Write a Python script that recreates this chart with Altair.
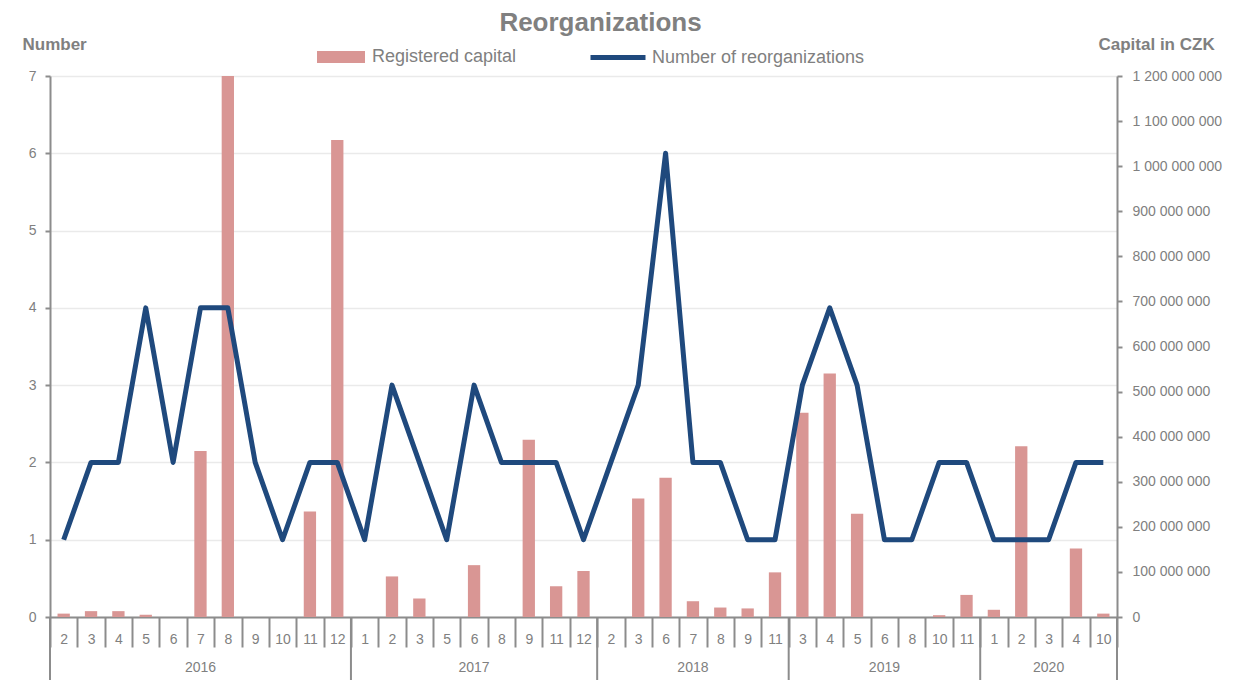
import altair as alt
import pandas as pd

# ---- data ----
years = [2016, 2017, 2018, 2019, 2020]
months_by_year = [
    [2, 3, 4, 5, 6, 7, 8, 9, 10, 11, 12],
    [1, 2, 3, 5, 6, 8, 9, 11, 12],
    [2, 3, 6, 7, 8, 9, 11],
    [3, 4, 5, 6, 8, 10, 11],
    [1, 2, 3, 4, 10],
]
reorg_count = [
    1, 2, 2, 4, 2, 4, 4, 2, 1, 2, 2,
    1, 3, 2, 1, 3, 2, 2, 2, 1,
    2, 3, 6, 2, 2, 1, 1,
    3, 4, 3, 1, 1, 2, 2,
    1, 1, 1, 2, 2,
]
capital_millions = [
    7.5, 13, 13, 5, 0, 368, 1200, 0, 0, 234, 1058,
    0, 90, 41, 0, 115, 0, 393, 68, 102,
    0, 263, 309, 35, 21, 19, 99,
    453, 540, 229, 0, 0, 4, 49,
    16, 379, 0, 152, 7.5,
]
left_ticks = [0, 1, 2, 3, 4, 5, 6, 7]
right_ticks = [i * 100_000_000 for i in range(13)]

keys = [f"{y}-{m}" for y, ms in zip(years, months_by_year) for m in ms]
df = pd.DataFrame({
    "key": keys,
    "count": reorg_count,
    "capital": [c * 1_000_000 for c in capital_millions],
})

first_keys = [f"{y}-{ms[0]}" for y, ms in zip(years, months_by_year)]
mid_keys = [f"{y}-{ms[len(ms) // 2]}" for y, ms in zip(years, months_by_year)]
year_starts = pd.DataFrame({"key": first_keys})
year_end = pd.DataFrame({"key": [keys[-1]]})
year_labels = pd.DataFrame({"key": mid_keys, "year": [str(y) for y in years]})

FONT = "Liberation Sans"
AXIS_GRAY = "#8c8c8c"
LABEL_GRAY = "#808080"
PINK = "#d99694"
NAVY = "#1f497d"

x_scale = alt.Scale(domain=keys, paddingInner=0, paddingOuter=0)
x_axis = alt.Axis(
    title=None, labelExpr="split(datum.value, '-')[1]", labelAngle=0,
    tickBand="extent", tickSize=30, tickWidth=2, tickColor=AXIS_GRAY,
    domainColor=AXIS_GRAY, domainWidth=2, labelPadding=-15,
    labelFont=FONT, labelFontSize=14, labelColor=LABEL_GRAY, grid=False,
)


def xenc(**kw):
    return alt.X("key:N", scale=x_scale, axis=x_axis, **kw)


bars = alt.Chart(df).transform_calculate(s="'Registered capital'").mark_bar(
    width={"band": 0.45}
).encode(
    x=xenc(),
    y=alt.Y("capital:Q", scale=alt.Scale(domain=[0, 1_200_000_000]),
            axis=alt.Axis(
                orient="right", values=right_ticks, grid=False,
                labelExpr="replace(format(datum.value, ','), regexp(',', 'g'), ' ')",
                labelFont=FONT, labelFontSize=14, labelColor=LABEL_GRAY,
                labelPadding=10, tickSize=5, tickWidth=2, tickColor=AXIS_GRAY,
                domainColor=AXIS_GRAY, domainWidth=2,
                title="Capital in CZK", titleAngle=0, titleAlign="left",
                titleBaseline="alphabetic", titleX=-19, titleY=-27,
                titleFont=FONT, titleFontSize=17, titleFontWeight="bold",
                titleColor=LABEL_GRAY,
            )),
    color=alt.Color("s:N", scale=alt.Scale(range=[PINK]),
                    legend=alt.Legend(
                        title=None, orient="none", legendX=267, legendY=-43,
                        symbolType="M-1,-0.25H1V0.25H-1Z", symbolSize=2304,
                        symbolStrokeWidth=0, labelOffset=7, padding=0,
                        labelLimit=400,
                        labelFont=FONT, labelFontSize=18, labelColor=LABEL_GRAY,
                    )),
)

line = alt.Chart(df).transform_calculate(s2="'Number of reorganizations'").mark_line(
    strokeWidth=5, strokeJoin="round"
).encode(
    x=xenc(),
    y=alt.Y("count:Q", scale=alt.Scale(domain=[0, 7]),
            axis=alt.Axis(
                orient="left", values=left_ticks, grid=True,
                gridColor="#eaeaea", gridWidth=1.5,
                labelFont=FONT, labelFontSize=14, labelColor=LABEL_GRAY,
                labelPadding=9, tickSize=5, tickWidth=2, tickColor=AXIS_GRAY,
                domainColor=AXIS_GRAY, domainWidth=2,
                title="Number", titleAngle=0, titleAlign="left",
                titleBaseline="alphabetic", titleX=-28, titleY=-27,
                titleFont=FONT, titleFontSize=17, titleFontWeight="bold",
                titleColor=LABEL_GRAY,
            )),
    stroke=alt.Stroke("s2:N", scale=alt.Scale(range=[NAVY]),
                      legend=alt.Legend(
                          title=None, orient="none", legendX=538, legendY=-48.5,
                          symbolType="stroke", symbolSize=3025,
                          symbolStrokeWidth=5, labelOffset=4, padding=0,
                          labelLimit=400,
                          labelFont=FONT, labelFontSize=18, labelColor=LABEL_GRAY,
                      )),
)

sep_rules = alt.Chart(year_starts).mark_rule(color=AXIS_GRAY, strokeWidth=2).encode(
    x=xenc(bandPosition=0), y=alt.value(541), y2=alt.value(606)
)
end_rule = alt.Chart(year_end).mark_rule(color=AXIS_GRAY, strokeWidth=2).encode(
    x=xenc(bandPosition=1), y=alt.value(541), y2=alt.value(606)
)
year_text = alt.Chart(year_labels).mark_text(
    font=FONT, fontSize=14, color=LABEL_GRAY, baseline="middle"
).encode(x=xenc(), y=alt.value(592), text="year:N")

chart = alt.layer(bars, line, sep_rules, end_rule, year_text).resolve_scale(
    y="independent"
).properties(
    width=1067, height=541,
    autosize="none",
    padding={"left": 42, "top": 68, "right": 116, "bottom": 63},
    title=alt.TitleParams(
        "Reorganizations", font=FONT, fontSize=26, fontWeight="bold",
        color=LABEL_GRAY, anchor="middle", frame="group", offset=14,
        baseline="alphabetic", dx=17, dy=43,
    ),
).configure_view(stroke=None)

chart.save("out.html", embed_options={"renderer": "svg", "actions": False})
